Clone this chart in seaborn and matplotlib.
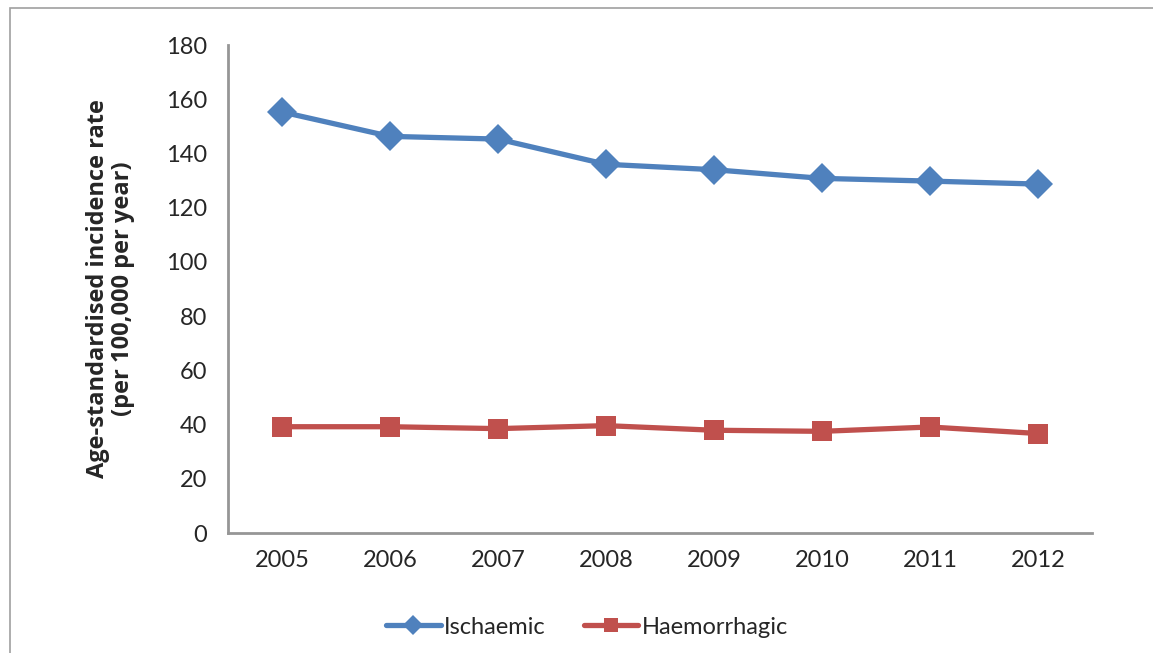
import matplotlib
matplotlib.use("Agg")
import matplotlib.pyplot as plt
from matplotlib.patches import Rectangle
from matplotlib.ticker import FixedLocator, NullFormatter
import seaborn as sns
import pandas as pd

# ── Dados ─────────────────────────────────────────────────────────────────────
years = ["2005", "2006", "2007", "2008", "2009", "2010", "2011", "2012"]
ischaemic = [155.3, 146.3, 145.3, 136.0, 134.0, 130.8, 129.8, 128.7]
haemorrhagic = [39.2, 39.2, 38.5, 39.6, 37.9, 37.5, 39.1, 36.7]
series_names = ["Ischaemic", "Haemorrhagic"]
y_ticks = [0, 20, 40, 60, 80, 100, 120, 140, 160, 180]

BLUE = "#4F81BD"
RED = "#C0504D"
AXIS_GREY = "#969696"

sns.set_style("white")
plt.rcParams["font.family"] = ["Lato", "DejaVu Sans"]

df = pd.DataFrame({
    "pos": list(range(len(years))) * 2,
    "rate": ischaemic + haemorrhagic,
    "series": [series_names[0]] * len(years) + [series_names[1]] * len(years),
})

fig = plt.figure(figsize=(11.53, 6.53), dpi=100)
ax = fig.add_axes([228 / 1153, 1 - 533 / 653, (1092 - 228) / 1153, (533 - 45) / 653])

sns.lineplot(data=df, x="pos", y="rate", hue="series", style="series",
             palette={series_names[0]: BLUE, series_names[1]: RED},
             markers={series_names[0]: "D", series_names[1]: "s"},
             dashes=False, linewidth=3.8, markersize=15, markeredgewidth=0,
             ax=ax, legend=False)

# ── Eixos estilo Excel ────────────────────────────────────────────────────────
ax.set_xlim(-0.5, len(years) - 0.5)
ax.set_ylim(0, 180)
ax.set_yticks(y_ticks)
ax.set_yticklabels([str(v) for v in y_ticks], fontsize=17)
ax.xaxis.set_major_locator(FixedLocator([i - 0.5 for i in range(len(years) + 1)]))
ax.xaxis.set_major_formatter(NullFormatter())
ax.xaxis.set_minor_locator(FixedLocator(list(range(len(years)))))
ax.set_xticklabels(years, minor=True, fontsize=17)
ax.tick_params(axis="x", which="major", length=8, width=2, color=AXIS_GREY, direction="out")
ax.tick_params(axis="x", which="minor", length=0, pad=12)
ax.tick_params(axis="y", length=7, width=2, color=AXIS_GREY, direction="out", pad=8)

for side in ["top", "right"]:
    ax.spines[side].set_visible(False)
for side in ["left", "bottom"]:
    ax.spines[side].set_color(AXIS_GREY)
    ax.spines[side].set_linewidth(2)

ax.set_xlabel("")
ax.set_ylabel("Age-standardised incidence rate\n(per 100,000 per year)",
              family=["Open Sans", "DejaVu Sans"], fontsize=17, fontweight="bold",
              labelpad=22, linespacing=1.05)

# ── Legenda ───────────────────────────────────────────────────────────────────
handles = [
    plt.Line2D([], [], color=BLUE, marker="D", lw=3.8, markersize=10, markeredgewidth=0),
    plt.Line2D([], [], color=RED, marker="s", lw=3.8, markersize=10, markeredgewidth=0),
]
fig.legend(handles, series_names, loc="center", bbox_to_anchor=(587 / 1153, 1 - 627 / 653),
           ncol=2, frameon=False, fontsize=17, handlelength=2.3, handletextpad=0.15,
           columnspacing=1.6)

# moldura do gráfico
fig.patches.append(Rectangle((10 / 1153, -0.1), 1.2, 1.1 - 8 / 653, transform=fig.transFigure,
                             fill=False, edgecolor="#A0A0A0", linewidth=1.2))

fig.savefig("out.png", dpi=100)
plt.close(fig)
